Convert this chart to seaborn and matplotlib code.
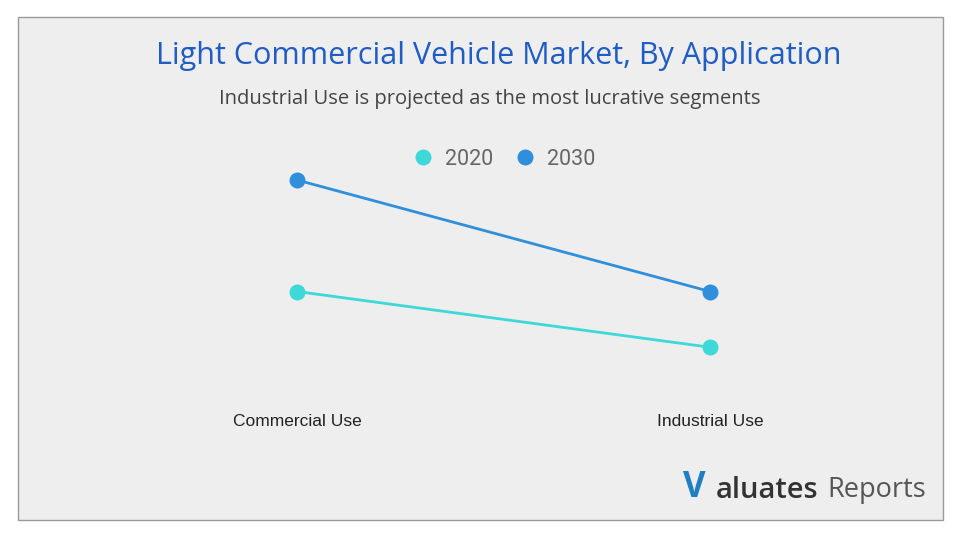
import matplotlib
matplotlib.use('Agg')
import matplotlib.pyplot as plt
from matplotlib.lines import Line2D
from matplotlib.patches import Rectangle
import seaborn as sns
import pandas as pd


categories = ['Commercial Use', 'Industrial Use']
years = ['2020', '2030']
values_2020 = [20, 10]
values_2030 = [40, 20]

colors = {'2020': '#3fd8d8', '2030': '#2f8fdb'}

df = pd.DataFrame({
    'segment': categories * 2,
    'pos': [0, 1] * 2,
    'year': ['2020'] * 2 + ['2030'] * 2,
    'value': values_2020 + values_2030,
})

sns.set_theme(style='white')
plt.rcParams['font.family'] = ['Open Sans', 'DejaVu Sans']

W, H = 960, 540
fig = plt.figure(figsize=(9.6, 5.4), dpi=100)
fig.patch.set_facecolor('white')

# gray panel with border, behind the axes
fig.patches.append(Rectangle((18 / W, 1 - 520 / H), 925 / W, 503 / H,
                             transform=fig.transFigure, facecolor='#eeeeee',
                             edgecolor='#9a9a9a', linewidth=1, zorder=-5))

ax = fig.add_axes([18 / W, 1 - 403 / H, 925 / W, 273 / H])
ax.set_facecolor('none')
ax.set_zorder(2)

sns.lineplot(data=df, x='pos', y='value', hue='year', palette=colors,
             marker='o', markersize=11.5, markeredgewidth=0, linewidth=2,
             legend=False, ax=ax)

ppu = 413  # px per category step
left = -(297 - 18) / ppu
ax.set_xlim(left, left + 925 / ppu)
ax.set_ylim(0, 273 / 5.575)
ax.set_xticks([0, 1])
ax.set_xticklabels(categories, family=['Liberation Sans', 'DejaVu Sans'],
                   fontsize=12.5, color='#222222')
ax.tick_params(axis='x', length=0, pad=8)
ax.set_yticks([])
ax.set_xlabel('')
ax.set_ylabel('')
for s in ax.spines.values():
    s.set_visible(False)

handles = [Line2D([], [], linestyle='none', marker='o', markersize=11.5,
                  markeredgewidth=0, color=colors[y]) for y in years]
leg = fig.legend(handles, years, loc='center', bbox_to_anchor=(504 / W, 1 - 159 / H),
                 ncol=2, frameon=False, handlelength=1.0, handletextpad=0.5,
                 columnspacing=1.0,
                 prop={'family': ['Roboto', 'DejaVu Sans'], 'size': 15.5})
for t in leg.get_texts():
    t.set_color('#666666')

fig.text(499 / W, 1 - 56 / H, 'Light Commercial Vehicle Market, By Application',
         ha='center', va='center', fontsize=22, color='#1f5cc4')
fig.text(490 / W, 1 - 99 / H,
         'Industrial Use is projected as the most lucrative segments',
         ha='center', va='center', fontsize=14.5, color='#444444')

# logo
fig.text(683 / W, 1 - 488 / H, 'V', ha='left', va='center', fontsize=25,
         fontweight='bold', color='#1f7fc0')
fig.text(716 / W, 1 - 490 / H, 'aluates', ha='left', va='center', fontsize=21,
         fontweight='semibold', color='#333333')
fig.text(926 / W, 1 - 490 / H, 'Reports', ha='right', va='center', fontsize=19.5,
         color='#555555')

fig.savefig('out.png', dpi=100, facecolor=fig.get_facecolor())
